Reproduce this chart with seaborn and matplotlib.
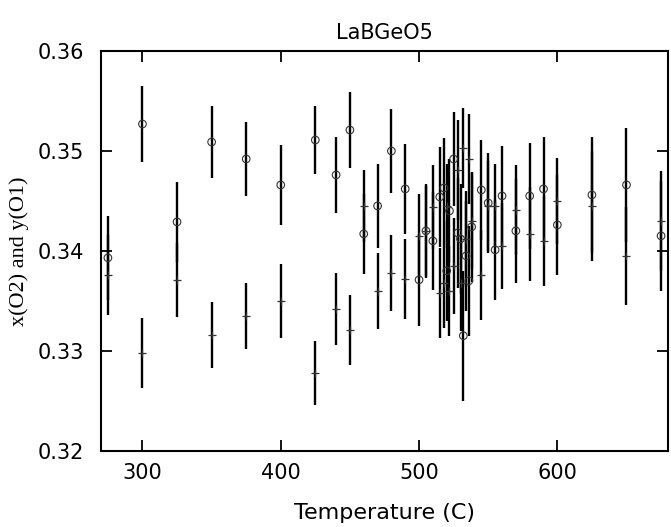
import numpy as np
import pandas as pd
import seaborn as sns
import matplotlib
matplotlib.use("Agg")
import matplotlib.pyplot as plt

# Temperatures (C) of each measurement
temps = [275, 300, 325, 350, 375, 400, 425, 440, 450, 460, 470, 480, 490, 500,
         505, 510, 515, 518, 520, 522, 525, 528, 530, 532, 534, 536, 538,
         545, 550, 555, 560, 570, 580, 590, 600, 625, 650, 675]

# x(O2) - open circles
x_o2 = [0.3393, 0.3527, 0.3429, 0.3509, 0.3492, 0.3466, 0.3511, 0.3476, 0.3521,
        0.3417, 0.3445, 0.3500, 0.3462, 0.3371, 0.3420, 0.3410, 0.3454, 0.3463,
        0.3380, 0.3440, 0.3492, 0.3418, 0.3412, 0.3315, 0.3395, 0.3370, 0.3424,
        0.3461, 0.3448, 0.3401, 0.3455, 0.3420, 0.3455, 0.3462, 0.3426, 0.3456,
        0.3466, 0.3415]
x_o2_err = [0.0042, 0.0038, 0.0040, 0.0036, 0.0037, 0.0040, 0.0034, 0.0038, 0.0038,
            0.0040, 0.0042, 0.0042, 0.0045, 0.0046, 0.0047, 0.0049, 0.0050, 0.0050,
            0.0050, 0.0052, 0.0047, 0.0055, 0.0055, 0.0065, 0.0055, 0.0055, 0.0055,
            0.0050, 0.0050, 0.0050, 0.0050, 0.0052, 0.0053, 0.0052, 0.0050, 0.0058,
            0.0057, 0.0055]

# y(O1) - plus markers
y_o1 = [0.3376, 0.3298, 0.3371, 0.3316, 0.3335, 0.3350, 0.3278, 0.3342, 0.3321,
        0.3445, 0.3360, 0.3378, 0.3372, 0.3415, 0.3420, 0.3444, 0.3358, 0.3368,
        0.3445, 0.3360, 0.3385, 0.3481, 0.3368, 0.3503, 0.3412, 0.3492, 0.3430,
        0.3376, 0.3445, 0.3445, 0.3405, 0.3441, 0.3417, 0.3410, 0.3450, 0.3445,
        0.3395, 0.3430]
y_o1_err = [0.0040, 0.0035, 0.0037, 0.0033, 0.0033, 0.0037, 0.0032, 0.0036, 0.0035,
            0.0036, 0.0038, 0.0038, 0.0040, 0.0042, 0.0045, 0.0042, 0.0045, 0.0045,
            0.0042, 0.0045, 0.0048, 0.0050, 0.0048, 0.0040, 0.0048, 0.0045, 0.0048,
            0.0045, 0.0045, 0.0042, 0.0043, 0.0045, 0.0047, 0.0045, 0.0043, 0.0055,
            0.0049, 0.0050]

x_ticks = [300, 400, 500, 600]
y_ticks = [0.32, 0.33, 0.34, 0.35, 0.36]
y_ticklabels = ["0.32", "0.33", "0.34", "0.35", "0.36"]

sns.set_style("ticks")
plt.rcParams['font.family'] = ['DejaVu Sans']
plt.rcParams['text.color'] = 'black'
plt.rcParams['axes.labelcolor'] = 'black'
plt.rcParams['xtick.color'] = 'black'
plt.rcParams['ytick.color'] = 'black'

fig = plt.figure(figsize=(6.71, 5.27), dpi=100)
ax = fig.add_axes([0.1505, 0.145, 0.845, 0.758])

df_o2 = pd.DataFrame({"T": temps, "v": x_o2})
df_o1 = pd.DataFrame({"T": temps, "v": y_o1})

# error bars, black lines with no caps
ax.errorbar(temps, x_o2, yerr=x_o2_err, fmt='none', ecolor='black', elinewidth=1.7, capsize=0)
ax.errorbar(temps, y_o1, yerr=y_o1_err, fmt='none', ecolor='black', elinewidth=1.7, capsize=0)

sns.scatterplot(data=df_o2, x="T", y="v", ax=ax, marker='o', s=30,
                facecolors='none', edgecolor='#333333', linewidth=0.8, zorder=3)
sns.scatterplot(data=df_o1, x="T", y="v", ax=ax, marker='+', s=30,
                color='#333333', linewidth=0.9, zorder=3)

ax.set_xlim(270, 680)
ax.set_ylim(0.32, 0.36)
ax.set_xticks(x_ticks)
ax.set_yticks(y_ticks)
ax.set_yticklabels(y_ticklabels)
ax.tick_params(direction='in', length=8, width=1.3, top=True, right=True,
               labelsize=15)
ax.tick_params(axis='x', pad=9)
ax.tick_params(axis='y', pad=12)
for sp in ax.spines.values():
    sp.set_linewidth(1.5)
    sp.set_color('black')

ax.set_xlabel("Temperature (C)", fontsize=16, labelpad=14)
ax.set_ylabel("x(O2) and y(O1)", fontsize=16, family='Liberation Serif', labelpad=6)
ax.set_title("LaBGeO5", fontsize=15, pad=9)

fig.savefig("out.png", dpi=100)
